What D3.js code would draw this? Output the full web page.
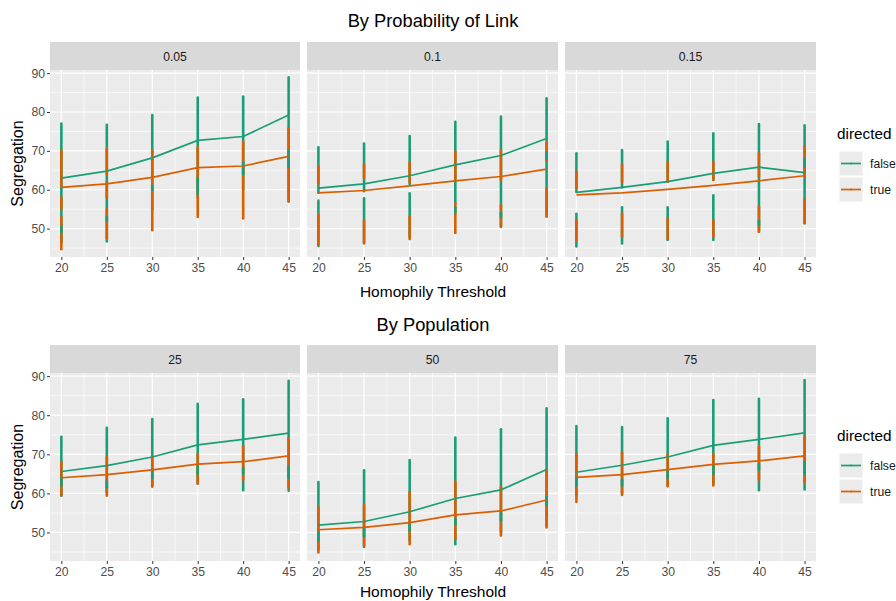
<!DOCTYPE html>
<html>
<head>
<meta charset="utf-8">
<script src="https://cdn.jsdelivr.net/npm/d3@7"></script>
<style>
  body { margin: 0; background: #fff; }
  svg text { font-family: "Liberation Sans", Arial, sans-serif; }
</style>
</head>
<body>
<svg id="chart" width="896" height="601"></svg>
<script>
// ---- data ----
var thresholds = [20, 25, 30, 35, 40, 45];
var directed = ["false", "true"];
var colors = ["#1B9E77", "#D95F02"];
var yTicks = [50, 60, 70, 80, 90];

var linkProbs = ["0.05", "0.1", "0.15"];
var populations = ["25", "50", "75"];

// mean segregation per panel, [false, true]
var linkMeans = [
    [[63.0, 64.8, 68.2, 72.7, 73.7, 79.2], [60.6, 61.5, 63.2, 65.7, 66.1, 68.6]],
    [[60.4, 61.5, 63.6, 66.4, 68.8, 73.2], [59.2, 59.8, 61.0, 62.3, 63.4, 65.3]],
    [[59.3, 60.6, 62.1, 64.2, 65.8, 64.4], [58.7, 59.2, 60.1, 61.1, 62.3, 63.6]]
];
var popMeans = [
    [[65.6, 67.1, 69.3, 72.4, 73.8, 75.4], [64.0, 64.8, 66.0, 67.5, 68.1, 69.6]],
    [[51.9, 52.8, 55.3, 58.7, 60.9, 66.1], [50.7, 51.3, 52.5, 54.5, 55.5, 58.3]],
    [[65.4, 67.2, 69.3, 72.3, 73.8, 75.5], [64.1, 64.8, 66.1, 67.4, 68.3, 69.6]]
];

// spread of the individual runs: per panel, per threshold, [series, low, high] in drawing order
var linkSpread = [
    [
        [[0, 46.5, 77.0], [1, 44.7, 53.0], [1, 55.0, 58.0], [1, 61.0, 70.0], [0, 49.0, 50.5]],
        [[0, 46.7, 76.7], [1, 47.5, 55.0], [1, 58.0, 62.0], [1, 64.0, 70.5], [0, 52.0, 53.0]],
        [[0, 55.0, 79.2], [1, 49.6, 70.0], [0, 60.0, 61.0]],
        [[0, 58.0, 83.7], [1, 53.0, 71.0], [0, 59.0, 63.0]],
        [[0, 60.0, 84.0], [1, 52.6, 72.3], [0, 64.0, 67.0]],
        [[0, 57.0, 88.9], [1, 57.0, 75.8], [0, 66.0, 70.0]]
    ],
    [
        [[0, 59.2, 70.9], [1, 61.6, 66.0], [0, 45.5, 57.2], [1, 46.0, 53.5]],
        [[0, 59.6, 71.9], [1, 63.0, 66.5], [0, 46.5, 57.8], [1, 46.2, 52.0]],
        [[0, 61.5, 73.8], [1, 62.0, 67.0], [0, 47.9, 59.1], [1, 47.3, 53.1]],
        [[0, 56.5, 77.5], [1, 63.0, 69.8], [1, 48.9, 56.5], [0, 54.0, 55.5]],
        [[0, 50.5, 78.8], [1, 62.5, 70.2], [1, 50.5, 56.0], [0, 53.0, 54.0]],
        [[0, 53.1, 83.5], [1, 67.5, 72.0], [1, 53.1, 60.4], [0, 68.0, 69.5]]
    ],
    [
        [[0, 59.4, 69.4], [1, 60.5, 64.6], [0, 45.4, 53.8], [1, 47.1, 52.2]],
        [[0, 60.6, 70.2], [1, 62.0, 66.4], [0, 46.2, 55.5], [1, 48.0, 53.8]],
        [[0, 62.1, 72.4], [1, 62.1, 67.2], [0, 47.1, 55.5], [1, 47.5, 52.6]],
        [[0, 62.5, 74.5], [1, 62.5, 67.2], [0, 47.1, 58.6], [1, 48.0, 52.2]],
        [[0, 49.2, 76.9], [1, 63.3, 69.4], [1, 49.2, 55.6], [0, 51.0, 52.0]],
        [[0, 51.4, 76.6], [1, 63.5, 71.2], [1, 51.4, 57.4], [0, 66.0, 68.0]]
    ]
];
var popSpread = [
    [
        [[0, 59.4, 74.5], [1, 59.5, 68.0], [0, 62.0, 64.0]],
        [[0, 60.3, 76.8], [1, 59.4, 69.3], [0, 61.5, 63.0]],
        [[0, 62.0, 79.0], [1, 61.7, 69.3], [0, 64.0, 66.0]],
        [[0, 62.5, 82.9], [1, 62.5, 70.0], [0, 65.0, 67.0]],
        [[0, 60.8, 84.1], [1, 63.5, 72.0], [0, 65.0, 66.5]],
        [[0, 60.7, 88.8], [1, 61.5, 74.0], [0, 64.0, 67.0]]
    ],
    [
        [[0, 45.7, 62.9], [1, 44.9, 56.4], [0, 48.0, 50.0]],
        [[0, 46.3, 65.9], [1, 46.6, 57.0], [0, 49.0, 51.0]],
        [[0, 48.0, 68.5], [1, 47.0, 60.3], [0, 50.5, 52.0]],
        [[0, 47.0, 74.3], [1, 48.3, 63.0], [0, 52.0, 53.5]],
        [[0, 50.0, 76.4], [1, 49.2, 61.6], [0, 53.0, 55.0]],
        [[0, 51.7, 81.8], [1, 51.3, 66.0], [0, 57.0, 59.0]]
    ],
    [
        [[0, 59.4, 77.2], [1, 57.8, 70.0], [0, 62.0, 64.0]],
        [[0, 60.0, 77.0], [1, 59.6, 70.5], [0, 62.0, 63.5]],
        [[0, 62.0, 79.2], [1, 61.8, 70.0], [0, 64.0, 66.0]],
        [[0, 62.5, 83.9], [1, 62.0, 70.0], [0, 65.0, 67.0]],
        [[0, 60.8, 84.2], [1, 63.5, 72.0], [0, 66.0, 67.5]],
        [[0, 61.0, 89.0], [1, 63.0, 74.5], [0, 65.0, 68.0]]
    ]
];

// ---- layout ----
var svg = d3.select('#chart');
var panelX = [[50, 300], [307, 558], [565, 816]];

function drawFacetPlot(opts) {

    var top = opts.top;          // top of strip
    var stripH = 28;
    var panelTop = top + stripH;
    var panelBottom = opts.bottom;

    var y = d3.scaleLinear().domain([42.7, 90.8]).range([panelBottom, panelTop]);

    svg.append('text')
        .attr('x', 433).attr('y', opts.titleY)
        .attr('text-anchor', 'middle')
        .attr('font-size', 18.3)
        .attr('fill', '#000')
        .text(opts.title);

    opts.labels.forEach(function(label, p) {

        var x = d3.scaleLinear().domain([18.75, 46.25]).range(panelX[p]);
        var w = panelX[p][1] - panelX[p][0];
        var g = svg.append('g');

        g.append('rect')
            .attr('x', panelX[p][0]).attr('y', top)
            .attr('width', w).attr('height', stripH)
            .attr('fill', '#D9D9D9');

        g.append('text')
            .attr('x', panelX[p][0] + w / 2).attr('y', top + stripH / 2 + 4.5)
            .attr('text-anchor', 'middle')
            .attr('font-size', 12.2)
            .attr('fill', '#1A1A1A')
            .text(label);

        g.append('rect')
            .attr('x', panelX[p][0]).attr('y', panelTop)
            .attr('width', w).attr('height', panelBottom - panelTop)
            .attr('fill', '#EBEBEB');

        // minor grid
        [45, 55, 65, 75, 85].forEach(function(v) {
            g.append('line')
                .attr('x1', panelX[p][0]).attr('x2', panelX[p][1])
                .attr('y1', y(v)).attr('y2', y(v))
                .attr('stroke', '#fff').attr('stroke-width', 0.6);
        });
        [22.5, 27.5, 32.5, 37.5, 42.5].forEach(function(v) {
            g.append('line')
                .attr('x1', x(v)).attr('x2', x(v))
                .attr('y1', panelTop).attr('y2', panelBottom)
                .attr('stroke', '#fff').attr('stroke-width', 0.6);
        });
        // major grid
        yTicks.forEach(function(v) {
            g.append('line')
                .attr('x1', panelX[p][0]).attr('x2', panelX[p][1])
                .attr('y1', y(v)).attr('y2', y(v))
                .attr('stroke', '#fff').attr('stroke-width', 1.2);
        });
        thresholds.forEach(function(v) {
            g.append('line')
                .attr('x1', x(v)).attr('x2', x(v))
                .attr('y1', panelTop).attr('y2', panelBottom)
                .attr('stroke', '#fff').attr('stroke-width', 1.2);
        });

        // spread of runs
        opts.spread[p].forEach(function(segs, i) {
            segs.forEach(function(s) {
                g.append('line')
                    .attr('x1', x(thresholds[i])).attr('x2', x(thresholds[i]))
                    .attr('y1', y(s[1])).attr('y2', y(s[2]))
                    .attr('stroke', colors[s[0]])
                    .attr('stroke-width', 2.6)
                    .attr('stroke-linecap', 'round');
            });
        });

        // mean lines
        var line = d3.line()
            .x(function(d, i) { return x(thresholds[i]); })
            .y(function(d) { return y(d); });

        opts.means[p].forEach(function(vals, s) {
            g.append('path')
                .attr('d', line(vals))
                .attr('fill', 'none')
                .attr('stroke', colors[s])
                .attr('stroke-width', 1.7);
        });

        // x axis
        var xAxis = g.append('g')
            .attr('transform', 'translate(0,' + panelBottom + ')')
            .call(d3.axisBottom(x).tickValues(thresholds).tickSize(3).tickPadding(3));
        xAxis.select('.domain').remove();
        xAxis.selectAll('line').attr('stroke', '#333');
        xAxis.selectAll('text')
            .attr('font-size', 12.2)
            .attr('fill', '#4D4D4D')
            .attr('font-family', '"Liberation Sans", Arial, sans-serif');

        if (p == 0) {
            var yAxis = g.append('g')
                .attr('transform', 'translate(' + panelX[0][0] + ',0)')
                .call(d3.axisLeft(y).tickValues(yTicks).tickSize(3).tickPadding(2));
            yAxis.select('.domain').remove();
            yAxis.selectAll('line').attr('stroke', '#333');
            yAxis.selectAll('text')
                .attr('font-size', 12.2)
                .attr('fill', '#4D4D4D')
                .attr('font-family', '"Liberation Sans", Arial, sans-serif');
        }
    });

    svg.append('text')
        .attr('x', 433).attr('y', Math.min(panelBottom + 39.5, 597))
        .attr('text-anchor', 'middle')
        .attr('font-size', 15.5)
        .text('Homophily Threshold');

    svg.append('text')
        .attr('transform', 'translate(23,' + ((panelTop + panelBottom) / 2) + ') rotate(-90)')
        .attr('text-anchor', 'middle')
        .attr('font-size', 16)
        .text('Segregation');

    // legend
    var lx = 839;
    var ly = opts.legendY;
    svg.append('text')
        .attr('x', 837).attr('y', ly - 12.5)
        .attr('font-size', 15.3)
        .text('directed');

    directed.forEach(function(name, s) {
        var ky = ly + s * 26;
        svg.append('rect')
            .attr('x', lx).attr('y', ky)
            .attr('width', 24).attr('height', 25)
            .attr('fill', '#EBEBEB')
            .attr('stroke', '#fff');
        svg.append('line')
            .attr('x1', lx + 2).attr('x2', lx + 22)
            .attr('y1', ky + 12.5).attr('y2', ky + 12.5)
            .attr('stroke', colors[s]).attr('stroke-width', 1.7);
        svg.append('circle')
            .attr('cx', lx + 12).attr('cy', ky + 12.5).attr('r', 1)
            .attr('fill', colors[s]);
        svg.append('text')
            .attr('x', 870).attr('y', ky + 17)
            .attr('font-size', 12.2)
            .attr('fill', '#1A1A1A')
            .text(name);
    });
}

drawFacetPlot({
    title: 'By Probability of Link',
    titleY: 27,
    top: 42,
    bottom: 257,
    labels: linkProbs,
    means: linkMeans,
    spread: linkSpread,
    legendY: 151
});

drawFacetPlot({
    title: 'By Population',
    titleY: 331,
    top: 345,
    bottom: 561,
    labels: populations,
    means: popMeans,
    spread: popSpread,
    legendY: 453
});
</script>
</body>
</html>
